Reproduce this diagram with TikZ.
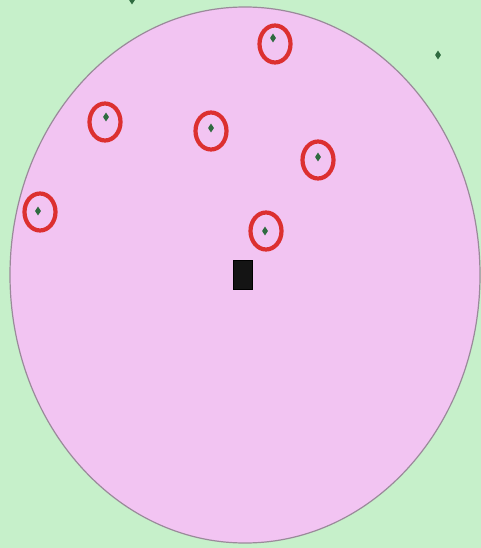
\documentclass[tikz,border=0pt]{standalone}
\usetikzlibrary{positioning,shapes.geometric}

\definecolor{bggreen}{HTML}{C6F0CA}
\definecolor{zonepink}{HTML}{F2C4F2}
\definecolor{zoneedge}{HTML}{9A8A9A}
\definecolor{ringred}{HTML}{DC3030}
\definecolor{dotgreen}{HTML}{2F6B40}

\tikzset{
  dot/.style={diamond, fill=dotgreen, inner sep=0pt, minimum width=6pt, minimum height=9pt},
  ring/.style={ellipse, draw=ringred, line width=4.2pt, inner sep=0pt, minimum width=31pt, minimum height=37pt},
  base/.style={rectangle, draw=black, fill=black!92, line width=1pt, inner sep=0pt, minimum width=19pt, minimum height=29pt}
}

\begin{document}
\begin{tikzpicture}[x=1pt, y=-1pt]

% Background
\fill[bggreen] (0, 0) rectangle (481, 548);
\useasboundingbox (0, 0) rectangle (481, 548);

% Zone
\node[ellipse, draw=zoneedge, fill=zonepink, line width=1.2pt, inner sep=0pt,
      minimum width=470pt, minimum height=536pt] (zone) at (245, 275) {};

% Base
\node[base] (base) at (243, 275) {};

% Points inside the zone
\node[dot] (p1) at (273, 38) {};
\node[dot] (p2) at (106, 117) {};
\node[dot] (p3) at (211, 128) {};
\node[dot] (p4) at (318, 157) {};
\node[dot] (p5) at (38, 211) {};
\node[dot] (p6) at (265, 231) {};

% Points outside the zone
\node[dot] (q1) at (438, 55) {};
\node[dot] (q2) at (132, 0) {};

% Rings
\node[ring] (r1) at (275, 44) {};
\node[ring] (r2) at (105, 122) {};
\node[ring] (r3) at (211, 131) {};
\node[ring] (r4) at (318, 160) {};
\node[ring] (r5) at (40, 212) {};
\node[ring] (r6) at (266, 231) {};

\end{tikzpicture}
\end{document}
